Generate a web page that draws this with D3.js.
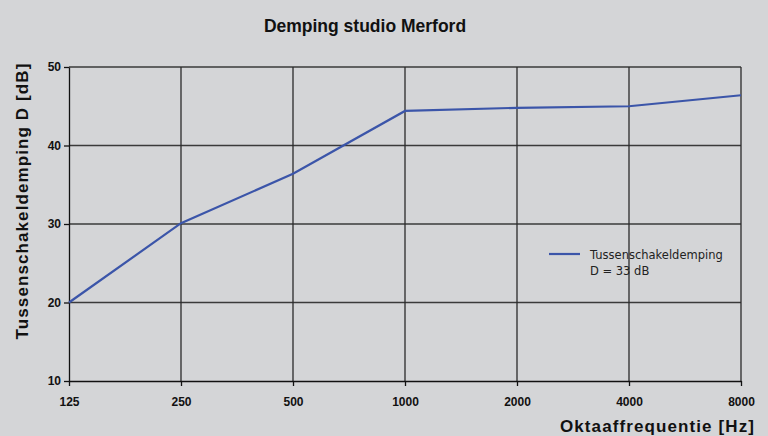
<!DOCTYPE html>
<html>
<head>
<meta charset="utf-8">
<script src="https://cdn.jsdelivr.net/npm/d3@7"></script>
<style>
  body { margin: 0; background: #d4d5d7; }
  svg { display: block; font-family: "Liberation Sans", Arial, sans-serif; }
</style>
</head>
<body>
<div id="chart"></div>
<script>
// data
var frequencies = [125, 250, 500, 1000, 2000, 4000, 8000];
var damping = [20.0, 30.1, 36.4, 44.4, 44.8, 45.0, 46.4];
var yTicks = [10, 20, 30, 40, 50];
var legendLines = ["Tussenschakeldemping", "D = 33 dB"];

var svgWidth = 768;
var svgHeight = 436;
var margin = { top: 67, right: 27, bottom: 55, left: 69 };
var width = svgWidth - margin.left - margin.right;
var height = svgHeight - margin.top - margin.bottom;

var svg = d3.select("#chart")
  .append("svg")
  .attr("width", svgWidth)
  .attr("height", svgHeight);

svg.append("rect")
  .attr("width", svgWidth)
  .attr("height", svgHeight)
  .attr("fill", "#d4d5d7");

var chartGroup = svg.append("g")
  .attr("transform", `translate(${margin.left}, ${margin.top})`);

// scales
var xScale = d3.scaleLog()
  .base(2)
  .domain([125, 8000])
  .range([0, width]);

var yScale = d3.scaleLinear()
  .domain([10, 50])
  .range([height, 0]);

// grid
chartGroup.append("g")
  .selectAll("line")
  .data(yTicks.slice(1))
  .enter()
  .append("line")
  .attr("x1", 0)
  .attr("x2", width)
  .attr("y1", d => yScale(d))
  .attr("y2", d => yScale(d))
  .attr("stroke", "#3a3a3a")
  .attr("stroke-width", 1.3);

chartGroup.append("g")
  .selectAll("line")
  .data(frequencies.slice(1))
  .enter()
  .append("line")
  .attr("x1", d => xScale(d))
  .attr("x2", d => xScale(d))
  .attr("y1", 0)
  .attr("y2", height)
  .attr("stroke", "#2a2a2a")
  .attr("stroke-width", 1.3);

// axes
var xAxis = d3.axisBottom(xScale)
  .tickValues(frequencies)
  .tickFormat(d3.format("d"))
  .tickSizeInner(5)
  .tickSizeOuter(0)
  .tickPadding(11);

var yAxis = d3.axisLeft(yScale)
  .tickValues(yTicks)
  .tickFormat(d3.format("d"))
  .tickSizeInner(5)
  .tickSizeOuter(0)
  .tickPadding(3);

var xg = chartGroup.append("g")
  .attr("transform", `translate(0, ${height})`)
  .call(xAxis);

var yg = chartGroup.append("g")
  .call(yAxis);

[xg, yg].forEach(function(g) {
  g.select(".domain").attr("stroke", "#111").attr("stroke-width", 1.3);
  g.selectAll(".tick line").attr("stroke", "#111").attr("stroke-width", 1.3);
  g.selectAll(".tick text")
    .attr("fill", "#111")
    .attr("font-size", "12px")
    .attr("font-weight", "bold")
    .attr("font-family", "Liberation Sans, Arial, sans-serif");
});

// line
var line = d3.line()
  .x((d, i) => xScale(frequencies[i]))
  .y(d => yScale(d));

chartGroup.append("path")
  .datum(damping)
  .attr("d", line)
  .attr("fill", "none")
  .attr("stroke", "#3b55a9")
  .attr("stroke-width", 2.2);

// legend
var legend = chartGroup.append("g")
  .attr("transform", `translate(${xScale(4000) - 80}, ${yScale(30) + 30})`);

legend.append("line")
  .attr("x1", 0)
  .attr("x2", 31)
  .attr("y1", 0)
  .attr("y2", 0)
  .attr("stroke", "#3b55a9")
  .attr("stroke-width", 2.2);

legend.selectAll("text")
  .data(legendLines)
  .enter()
  .append("text")
  .attr("x", 41)
  .attr("y", (d, i) => 5 + i * 16)
  .attr("font-size", "11.5px")
  .attr("font-family", "DejaVu Sans, sans-serif")
  .attr("fill", "#222")
  .text(d => d);

// titles
svg.append("text")
  .attr("x", 365)
  .attr("y", 32)
  .attr("text-anchor", "middle")
  .attr("font-size", "17.5px")
  .attr("font-weight", "bold")
  .attr("fill", "#111")
  .text("Demping studio Merford");

svg.append("text")
  .attr("transform", "translate(28, 201) rotate(-90)")
  .attr("text-anchor", "middle")
  .attr("font-size", "17px")
  .attr("font-weight", "bold")
  .attr("letter-spacing", "1.1px")
  .attr("fill", "#111")
  .text("Tussenschakeldemping D [dB]");

svg.append("text")
  .attr("x", 755)
  .attr("y", 432)
  .attr("text-anchor", "end")
  .attr("font-size", "17px")
  .attr("font-weight", "bold")
  .attr("letter-spacing", "1.1px")
  .attr("fill", "#111")
  .text("Oktaaffrequentie [Hz]");
</script>
</body>
</html>
